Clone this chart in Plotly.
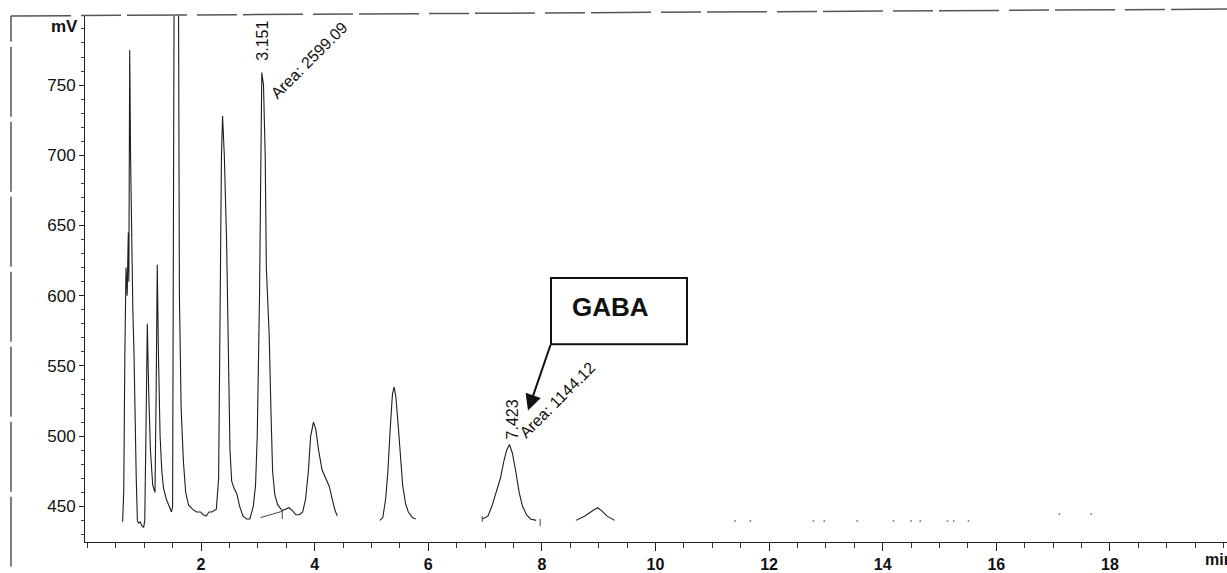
import plotly.graph_objects as go

# ---- data (time in min, signal in mV) ----
trace_time = [
    0.62, 0.64, 0.66, 0.68, 0.70, 0.72, 0.73, 0.745, 0.76, 0.78, 0.80, 0.82, 0.84, 0.86, 0.88,
    0.90, 0.93, 0.96, 0.99, 1.01, 1.03, 1.055, 1.08, 1.11, 1.15, 1.19, 1.21, 1.23, 1.25, 1.28,
    1.31, 1.34, 1.39, 1.43, 1.48, 1.50, 1.52, 1.54, 1.59, 1.62, 1.65, 1.69, 1.73, 1.78, 1.85,
    1.92, 1.99, 2.04, 2.09, 2.14, 2.19, 2.23, 2.27, 2.31, 2.33, 2.36, 2.38, 2.41, 2.45, 2.48,
    2.51, 2.54, 2.58, 2.63, 2.68, 2.74, 2.80, 2.86, 2.92, 2.96, 2.99, 3.03, 3.05, 3.07, 3.10,
    3.13, 3.15, 3.20, 3.23, 3.26, 3.30, 3.35, 3.43, 3.49, 3.55, 3.61, 3.67, 3.73, 3.79, 3.84,
    3.89, 3.93, 3.98, 4.02, 4.07, 4.13, 4.20, 4.26, 4.31, 4.36, 4.40,
    None,
    5.15, 5.20, 5.25, 5.29, 5.33, 5.37, 5.40, 5.43, 5.47, 5.51, 5.55, 5.60, 5.65, 5.72, 5.78,
    None,
    6.95, 7.05, 7.12, 7.18, 7.27, 7.33, 7.38, 7.43, 7.48, 7.54, 7.60, 7.66, 7.73, 7.80, 7.90,
    None,
    8.60, 8.75, 8.90, 8.98, 9.05, 9.15, 9.28,
]
trace_mv = [
    439, 460, 560, 620, 600, 645, 610, 775, 700, 620, 590, 560, 500, 470, 440,
    438, 439, 436, 435, 440, 500, 580, 530, 490, 465, 460, 530, 622, 560, 500,
    475, 463, 455, 451, 446, 450, 700, 1000, 1000, 600, 520, 482, 460, 451, 448,
    446, 446, 444, 443, 446, 446, 447, 448, 470, 560, 700, 728, 700, 640, 560,
    490, 468, 463, 459, 450, 443, 441, 441, 450, 465, 500, 600, 680, 759, 750,
    700, 620, 572, 520, 475, 458, 451, 447, 448, 449, 447, 444, 444, 446, 455,
    475, 500, 510, 505, 490, 476, 469, 464, 455, 447, 443,
    None,
    440, 442, 455, 475, 505, 530, 535, 528, 508, 485, 465, 452, 446, 442, 441,
    None,
    441, 443, 450, 458, 470, 482, 490, 494, 488, 475, 460, 450, 444, 441, 440,
    None,
    440, 443, 447, 449, 447, 443, 440,
]

# integration baseline / peak markers
mark_time = [3.05, 3.43, 3.43, None, 6.95, 6.95, None, 7.97, 7.97]
mark_mv = [442, 446.5, 441, None, 443, 439, None, 441, 436]

# faint baseline remnants visible after 10 min
dot_time = [11.4, 11.67, 12.78, 12.97, 13.55, 14.19, 14.5, 14.66, 15.14, 15.25, 15.51, 17.11, 17.67]
dot_mv = [439.5, 439.5, 439.5, 439.5, 439.5, 439.5, 439.5, 439.5, 439.5, 439.5, 439.5, 444.5, 444.5]

x_tick_vals = [2, 4, 6, 8, 10, 12, 14, 16, 18]
x_tick_text = ["<b>%d</b>" % v for v in x_tick_vals]
y_tick_vals = [450, 500, 550, 600, 650, 700, 750]
y_tick_text = [str(v) for v in y_tick_vals]

peak_labels = [
    {"rt": "3.151", "area": "Area: 2599.09"},
    {"rt": "7.423", "area": "Area: 1144.12"},
]

FONT = "Liberation Sans, Arial, sans-serif"
W, H = 1227, 573
ML, MR, MT, MB = 85, 0, 16, 25
PW, PH = W - ML - MR, H - MT - MB


def px(xp, yp):
    """pixel position -> paper coordinates"""
    return (xp - ML) / PW, (H - MB - yp) / PH


fig = go.Figure()
fig.add_trace(go.Scatter(x=trace_time, y=trace_mv, mode="lines",
                         line=dict(color="#1e1e1e", width=1.1), connectgaps=False,
                         hoverinfo="x+y", showlegend=False))
fig.add_trace(go.Scatter(x=mark_time, y=mark_mv, mode="lines",
                         line=dict(color="#444", width=1), connectgaps=False,
                         showlegend=False))
fig.add_trace(go.Scatter(x=dot_time, y=dot_mv, mode="markers",
                         marker=dict(color="#888", size=2), showlegend=False))


def label(xp, yp, text, size, angle=0, xanchor="center"):
    x0, y0 = px(xp, yp)
    return dict(x=x0, y=y0, xref="paper", yref="paper", text=text, textangle=angle,
                xanchor=xanchor, yanchor="middle", showarrow=False,
                font=dict(size=size, color="#111", family=FONT))


annotations = [
    label(64, 27, "<b>mV</b>", 17),
    label(1203, 566, "<b>min</b>", 16, xanchor="left"),
]
label_pos = [((263, 41), (309, 61)), ((512, 424), (557, 405))]
for lab, (rtp, arp) in zip(peak_labels, label_pos):
    annotations.append(label(rtp[0], rtp[1], lab["rt"], 16, angle=-90))
    annotations.append(label(arp[0], arp[1], lab["area"], 16, angle=-45))
annotations.append(label(610, 310, "<b>GABA</b>", 26))
# arrow from the box corner to the GABA peak
x0, y0 = px(528, 415)
annotations.append(dict(x=x0, y=y0, xref="paper", yref="paper", text="",
                        showarrow=True, ax=23, ay=-67, axref="pixel", ayref="pixel",
                        arrowhead=2, arrowsize=1.6, arrowwidth=2, arrowcolor="#111"))

shapes = []
bx0, by0 = px(551, 281)
bx1, by1 = px(687, 348)
shapes.append(dict(type="rect", xref="paper", yref="paper", x0=bx0, y0=by1, x1=bx1, y1=by0,
                   line=dict(color="#111", width=2), fillcolor="white", layer="above"))
# scanned outer frame
fx, fy_top = px(11, 16)
_, fy_bot = px(11, 573)
rx, ry_top = px(1227, 9)
shapes.append(dict(type="line", xref="paper", yref="paper", x0=fx, y0=fy_bot, x1=fx, y1=fy_top,
                   line=dict(color="#555", width=1.5, dash="70px,5px")))
shapes.append(dict(type="line", xref="paper", yref="paper", x0=fx, y0=fy_top, x1=rx, y1=ry_top,
                   line=dict(color="#555", width=1.5, dash="60px,10px,40px,6px")))

fig.update_layout(
    width=W, height=H, autosize=False,
    margin=dict(l=ML, r=MR, t=MT, b=MB, pad=0),
    paper_bgcolor="white", plot_bgcolor="white",
    font=dict(family=FONT, color="#111"),
    annotations=annotations, shapes=shapes,
    showlegend=False,
    xaxis=dict(range=[-0.042, 20.06], showgrid=False, zeroline=False,
               showline=True, linecolor="#222", linewidth=1,
               tickmode="array", tickvals=x_tick_vals, ticktext=x_tick_text,
               ticks="outside", ticklen=8, tickcolor="#222", tickwidth=1,
               tickfont=dict(size=16, family=FONT, color="#111"),
               minor=dict(dtick=0.5, tick0=0, ticks="outside", ticklen=5, tickcolor="#333")),
    yaxis=dict(range=[424.6, 799.2], showgrid=False, zeroline=False,
               showline=True, linecolor="#222", linewidth=1,
               tickmode="array", tickvals=y_tick_vals, ticktext=y_tick_text,
               ticks="outside", ticklen=5, tickcolor="#222", tickwidth=1,
               tickfont=dict(size=17, family=FONT, color="#111"),
               minor=dict(dtick=10, tick0=0, ticks="outside", ticklen=3, tickcolor="#444")),
)

fig.write_html("out.html")
